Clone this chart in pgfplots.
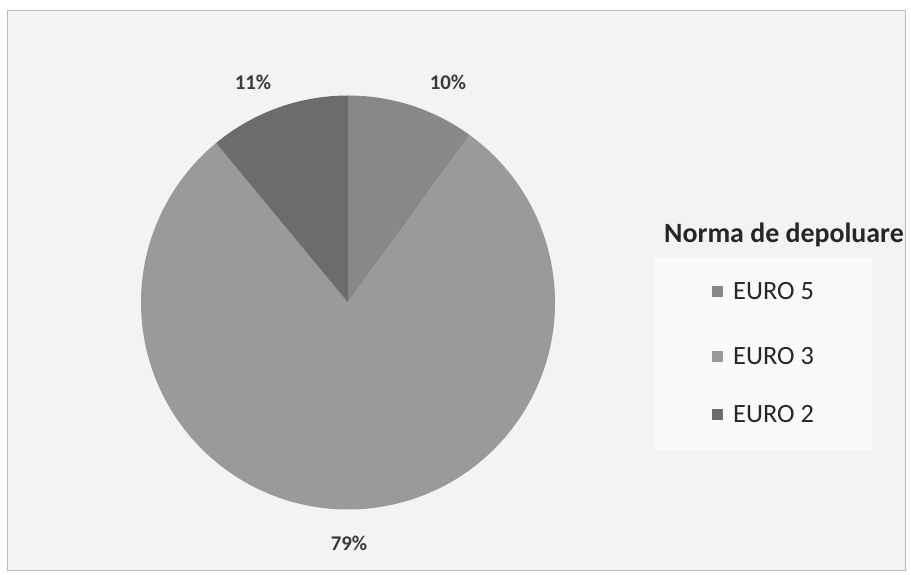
\documentclass[border=0pt]{standalone}
\usepackage{fontspec}
\setmainfont{Carlito}
\usepackage{pgfplots}
\usepackage{pgfplotstable}
\pgfplotsset{compat=1.18}

\definecolor{euroV}{HTML}{888888}
\definecolor{euroIII}{HTML}{9A9A9A}
\definecolor{euroII}{HTML}{6C6C6C}
\definecolor{bgc}{HTML}{F3F3F3}
\definecolor{lbl}{HTML}{3A3A3A}

\pgfplotstableread{
label value
{EURO 5} 10
{EURO 3} 79
{EURO 2} 11
}\piedata

\begin{document}
\begin{tikzpicture}
% slice angles, clockwise from 12 o'clock
\pgfplotstablegetelem{0}{value}\of\piedata \pgfmathtruncatemacro\va{\pgfplotsretval}
\pgfplotstablegetelem{1}{value}\of\piedata \pgfmathtruncatemacro\vb{\pgfplotsretval}
\pgfplotstablegetelem{2}{value}\of\piedata \pgfmathtruncatemacro\vc{\pgfplotsretval}
\pgfmathsetmacro\aA{90}
\pgfmathsetmacro\aB{\aA-3.6*\va}
\pgfmathsetmacro\aC{\aB-3.6*\vb}
\pgfmathsetmacro\aD{\aC-3.6*\vc}
\begin{axis}[
    width=911bp, height=575bp, scale only axis,
    xmin=0, xmax=911, ymin=0, ymax=575,
    hide axis, clip=false,
]
% page and chart area
\fill[white] (axis cs:0,0) rectangle (axis cs:911,575);
\filldraw[fill=bgc, draw=gray!55, line width=0.8bp] (axis cs:7,5) rectangle (axis cs:905,565);
\fill[white!60!bgc] (axis cs:655,125) rectangle (axis cs:872,318);

% pie
\fill[euroV] (axis cs:348,272.5) -- ++(\aA:207bp) arc[start angle=\aA, end angle=\aB, radius=207bp] -- cycle;
\fill[euroIII] (axis cs:348,272.5) -- ++(\aB:207bp) arc[start angle=\aB, end angle=\aC, radius=207bp] -- cycle;
\fill[euroII] (axis cs:348,272.5) -- ++(\aC:207bp) arc[start angle=\aC, end angle=\aD, radius=207bp] -- cycle;

% data labels
\node[font=\fontsize{21}{24}\selectfont\bfseries, text=lbl] at (axis cs:448,493) {\va\%};
\node[font=\fontsize{21}{24}\selectfont\bfseries, text=lbl] at (axis cs:349,32) {\vb\%};
\node[font=\fontsize{21}{24}\selectfont\bfseries, text=lbl] at (axis cs:253,493) {\vc\%};

% legend
\node[anchor=base, font=\fontsize{28}{32}\selectfont\bfseries, text=black!85, inner sep=0pt] at (axis cs:784,332) {Norma de depoluare};
\fill[euroV] (axis cs:712,277.5) rectangle (axis cs:723,288.5);
\node[anchor=base west, font=\fontsize{26.5}{30}\selectfont, text=black!85, inner sep=0pt] at (axis cs:733,275) {EURO 5};
\fill[euroIII] (axis cs:712,212.5) rectangle (axis cs:723,223.5);
\node[anchor=base west, font=\fontsize{26.5}{30}\selectfont, text=black!85, inner sep=0pt] at (axis cs:733,210) {EURO 3};
\fill[euroII] (axis cs:712,154.5) rectangle (axis cs:723,165.5);
\node[anchor=base west, font=\fontsize{26.5}{30}\selectfont, text=black!85, inner sep=0pt] at (axis cs:733,152) {EURO 2};
\end{axis}
\end{tikzpicture}
\end{document}
